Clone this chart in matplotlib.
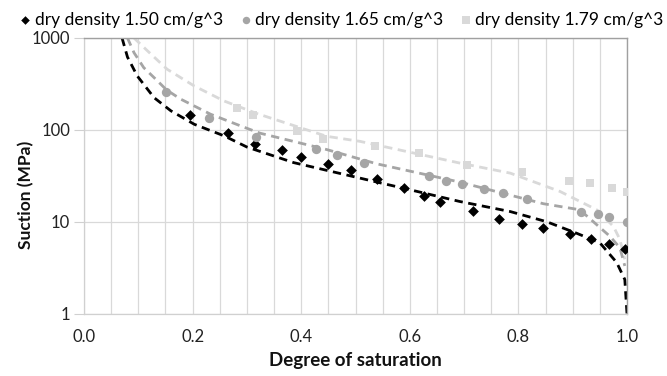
import matplotlib
matplotlib.use("Agg")
import matplotlib.pyplot as plt
from matplotlib.ticker import FixedLocator, NullLocator, FuncFormatter

plt.rcParams['font.family'] = ['Lato', 'DejaVu Sans']

# measured points
s150_x = [0.195, 0.266, 0.315, 0.365, 0.400, 0.450, 0.491, 0.540, 0.590, 0.626, 0.656, 0.716, 0.765, 0.806, 0.846, 0.895, 0.933, 0.966, 0.996]
s150_y = [146, 92, 70, 60, 51, 42, 37, 29, 23, 19, 16.4, 13.2, 10.8, 9.4, 8.5, 7.3, 6.5, 5.7, 5.0]

s165_x = [0.151, 0.231, 0.316, 0.427, 0.466, 0.515, 0.636, 0.666, 0.697, 0.737, 0.771, 0.815, 0.916, 0.947, 0.966, 1.000]
s165_y = [260, 134, 83, 62, 53.5, 44, 31.6, 28, 25.9, 22.8, 20.5, 17.8, 12.7, 12.2, 11.2, 10]

s179_x = [0.281, 0.311, 0.392, 0.441, 0.536, 0.617, 0.706, 0.807, 0.893, 0.932, 0.972, 1.000]
s179_y = [172, 146, 98, 79, 67, 56, 41.7, 34.4, 27.7, 26.3, 23.2, 20.8]

# fitted curves
f150_x = [0.070, 0.080, 0.098, 0.129, 0.160, 0.203, 0.258, 0.300, 0.386, 0.496, 0.600, 0.692, 0.785, 0.852, 0.907, 0.950, 0.981, 0.996, 1.000]
f150_y = [1000, 620, 386, 224, 161, 115, 86, 65, 44, 31, 22.3, 16.6, 12.9, 10, 7.5, 5.9, 3.6, 2.35, 1.0]

f165_x = [0.080, 0.092, 0.110, 0.132, 0.152, 0.178, 0.233, 0.289, 0.324, 0.447, 0.539, 0.692, 0.846, 0.913, 0.969, 0.987, 0.996]
f165_y = [1000, 692, 475, 356, 272, 216, 148, 110, 92, 61, 42.7, 27, 15.7, 13.5, 6.9, 5.2, 3.3]

f179_x = [0.092, 0.117, 0.153, 0.203, 0.258, 0.319, 0.447, 0.508, 0.692, 0.785, 0.877, 0.944, 0.975, 0.987, 0.996]
f179_y = [1000, 723, 457, 300, 206, 150, 85, 75, 43.5, 33.8, 21.3, 13.5, 8.9, 6.4, 3.9]

labels = ['dry density 1.50 cm/g^3', 'dry density 1.65 cm/g^3', 'dry density 1.79 cm/g^3']
x_ticks = [0.0, 0.2, 0.4, 0.6, 0.8, 1.0]
y_ticks = [1, 10, 100, 1000]

c_black, c_gray, c_light = '#000000', '#a5a5a5', '#d9d9d9'

fig = plt.figure(figsize=(6.67, 3.76), dpi=100)
ax = fig.add_axes([0.126, 0.166, 0.814, 0.733])

dash = (3, 2)
ax.plot(f179_x, f179_y, color=c_light, lw=2.0, linestyle=(0, dash), zorder=2)
ax.plot(f165_x, f165_y, color=c_gray, lw=2.0, linestyle=(0, dash), zorder=2)
ax.plot(f150_x, f150_y, color=c_black, lw=2.0, linestyle=(0, dash), zorder=2)

h1 = ax.scatter(s150_x, s150_y, marker='D', s=30, color=c_black, zorder=3, linewidths=0)
h2 = ax.scatter(s165_x, s165_y, marker='o', s=45, color=c_gray, zorder=3, linewidths=0)
h3 = ax.scatter(s179_x, s179_y, marker='s', s=40, color=c_light, zorder=3, linewidths=0)

ax.set_yscale('log')
ax.set_xlim(0, 1.0)
ax.set_ylim(1, 1000)
ax.xaxis.set_major_locator(FixedLocator(x_ticks))
ax.xaxis.set_minor_locator(FixedLocator([i * 0.05 for i in range(21)]))
ax.yaxis.set_major_locator(FixedLocator(y_ticks))
ax.yaxis.set_minor_locator(NullLocator())
ax.xaxis.set_major_formatter(FuncFormatter(lambda v, p: f"{v:.1f}"))
ax.yaxis.set_major_formatter(FuncFormatter(lambda v, p: f"{int(v)}"))

ax.grid(True, which='both', axis='x', color='#d9d9d9', lw=0.9)
ax.grid(True, which='major', axis='y', color='#d9d9d9', lw=0.9)
ax.set_axisbelow(True)

for s in ['left', 'bottom']:
    ax.spines[s].set_color('#d0d0d0')
    ax.spines[s].set_linewidth(0.9)
for s in ['top', 'right']:
    ax.spines[s].set_color('#a0a0a0')
    ax.spines[s].set_linewidth(1.0)

ax.tick_params(axis='x', which='both', length=0, labelsize=12, colors='#222222', pad=11)
ax.tick_params(axis='y', which='major', length=7, color='#d0d0d0', labelsize=12, labelcolor='#222222', pad=3)

ax.set_xlabel('Degree of saturation', fontsize=13.5, fontweight='bold', color='#111111', labelpad=5)
ax.set_ylabel('Suction (MPa)', fontsize=12.5, fontweight='bold', color='#111111')
ax.yaxis.set_label_coords(-0.092, 0.43)

fig.legend([h1, h2, h3], labels, loc='upper center', bbox_to_anchor=(0.51, 1.01), ncol=3,
           frameon=False, fontsize=12.5, handletextpad=0.05, columnspacing=0.8,
           handlelength=1.0, markerscale=0.8)

fig.savefig('out.png', dpi=100)
